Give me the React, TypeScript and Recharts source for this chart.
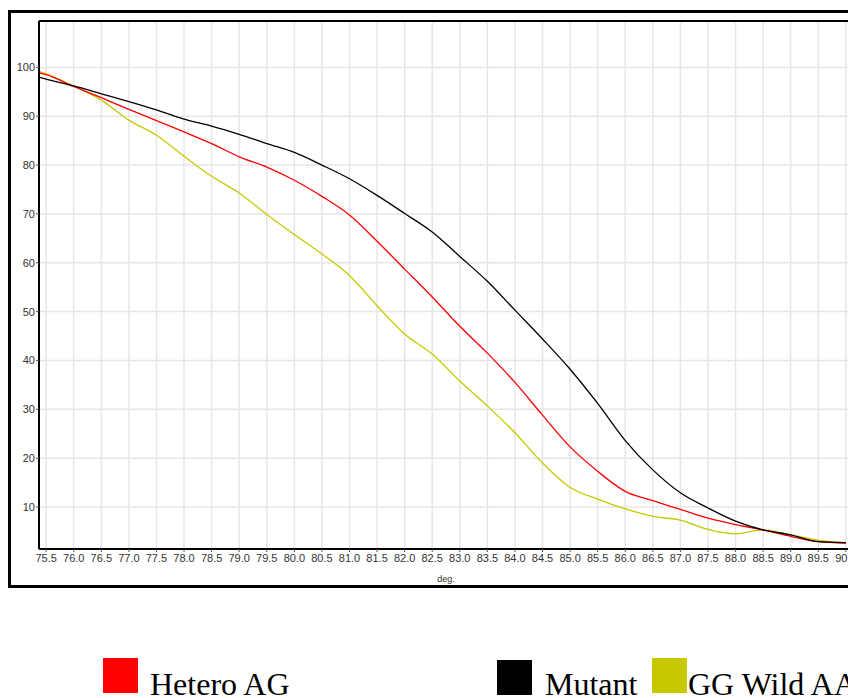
import React from 'react';
import { LineChart, Line, XAxis, YAxis, CartesianGrid, ReferenceLine } from 'recharts';

// melt curve readings, deg. vs. normalised fluorescence
const degrees = [75.37, 75.5, 76.0, 76.5, 77.0, 77.5, 78.0, 78.5, 79.0, 79.5, 80.0, 80.5, 81.0, 81.5, 82.0, 82.5, 83.0, 83.5, 84.0, 84.5, 85.0, 85.5, 86.0, 86.5, 87.0, 87.5, 88.0, 88.5, 89.0, 89.5, 90.0];
const heteroAG = [98.9, 98.5, 96.1, 93.8, 91.4, 89.1, 86.8, 84.4, 81.7, 79.6, 76.9, 73.6, 69.8, 64.4, 58.7, 53.0, 47.0, 41.5, 35.5, 28.8, 22.3, 17.3, 13.2, 11.3, 9.5, 7.7, 6.4, 5.3, 4.0, 2.9, 2.6];
const mutant = [98.0, 97.6, 96.2, 94.6, 93.0, 91.3, 89.4, 88.0, 86.3, 84.4, 82.6, 80.0, 77.2, 73.8, 70.1, 66.3, 61.3, 56.2, 50.3, 44.4, 38.2, 31.2, 23.6, 17.6, 12.9, 9.8, 7.1, 5.3, 4.3, 2.9, 2.7];
const wildAA = [99.2, 98.7, 96.2, 93.3, 89.2, 86.1, 81.8, 77.7, 74.3, 69.9, 65.8, 61.8, 57.4, 51.2, 45.4, 41.3, 35.8, 30.7, 25.2, 19.0, 14.0, 11.6, 9.6, 8.1, 7.3, 5.4, 4.5, 5.3, 4.3, 3.2, 2.6];

const xTicks = [75.5, 76.0, 76.5, 77.0, 77.5, 78.0, 78.5, 79.0, 79.5, 80.0, 80.5, 81.0, 81.5, 82.0, 82.5, 83.0, 83.5, 84.0, 84.5, 85.0, 85.5, 86.0, 86.5, 87.0, 87.5, 88.0, 88.5, 89.0, 89.5, 90.0, 90.5];
const yTicks = [10, 20, 30, 40, 50, 60, 70, 80, 90, 100];

const data = degrees.map((d, i) => ({
  deg: d,
  hetero: heteroAG[i],
  mutant: mutant[i],
  wild: wildAA[i],
}));

const tickFont = { fontSize: 11, fill: '#333', fontFamily: '"Liberation Sans Narrow", "Arial Narrow", "Liberation Sans", Arial, sans-serif' };

const legendText: React.CSSProperties = {
  position: 'absolute',
  top: 668,
  fontFamily: '"Liberation Serif", "Times New Roman", serif',
  fontSize: 32,
  lineHeight: '32px',
  whiteSpace: 'nowrap',
  color: '#000',
};

const swatch = (left: number, top: number, color: string): React.CSSProperties => ({
  position: 'absolute',
  left,
  top,
  width: 35,
  height: 35,
  background: color,
});

export default function App() {
  return (
    <div style={{ position: 'absolute', left: 0, top: 0, width: 848, height: 698, overflow: 'hidden', background: '#fff' }}>
      <div style={{ position: 'absolute', left: 8, top: 10, width: 906, height: 578, border: '3px solid #000', boxSizing: 'border-box' }}>
        <LineChart width={890} height={572} data={data} margin={{ top: 8, right: 0, left: 0, bottom: 0 }}>
          <CartesianGrid stroke="#e6e6e6" strokeWidth={1.5} verticalPoints={undefined} />
          <XAxis
            dataKey="deg"
            type="number"
            domain={[75.37, 91.0]}
            ticks={xTicks}
            interval={0}
            tickFormatter={(v: number) => v.toFixed(1)}
            tick={tickFont}
            tickSize={3}
            tickLine={{ stroke: '#555' }}
            axisLine={{ stroke: '#000', strokeWidth: 2 }}
            height={36}
            label={{ value: 'deg.', position: 'insideBottom', offset: 3, dx: -24, style: { fontSize: 9, fill: '#333', fontFamily: 'Arial, "Liberation Sans", sans-serif' } }}
          />
          <YAxis
            type="number"
            domain={[1.4, 109.5]}
            ticks={yTicks}
            interval={0}
            tick={tickFont}
            tickSize={3}
            tickMargin={1}
            tickLine={{ stroke: '#555' }}
            axisLine={{ stroke: '#000', strokeWidth: 2 }}
            width={28}
          />
          <ReferenceLine y={109.5} stroke="#000" strokeWidth={2} />
          <Line type="monotone" dataKey="wild" name="GG Wild AA" stroke="#c8c800" strokeWidth={1.3} dot={false} isAnimationActive={false} />
          <Line type="monotone" dataKey="hetero" name="Hetero AG" stroke="#ff0000" strokeWidth={1.3} dot={false} isAnimationActive={false} />
          <Line type="monotone" dataKey="mutant" name="Mutant" stroke="#000000" strokeWidth={1.3} dot={false} isAnimationActive={false} />
        </LineChart>
      </div>

      <div style={swatch(103, 658, '#ff0000')} />
      <div style={{ ...legendText, left: 150 }}>Hetero AG</div>
      <div style={swatch(497, 660, '#000000')} />
      <div style={{ ...legendText, left: 545 }}>Mutant</div>
      <div style={swatch(652, 658, '#c8c800')} />
      <div style={{ ...legendText, left: 688 }}>GG Wild AA</div>
    </div>
  );
}
